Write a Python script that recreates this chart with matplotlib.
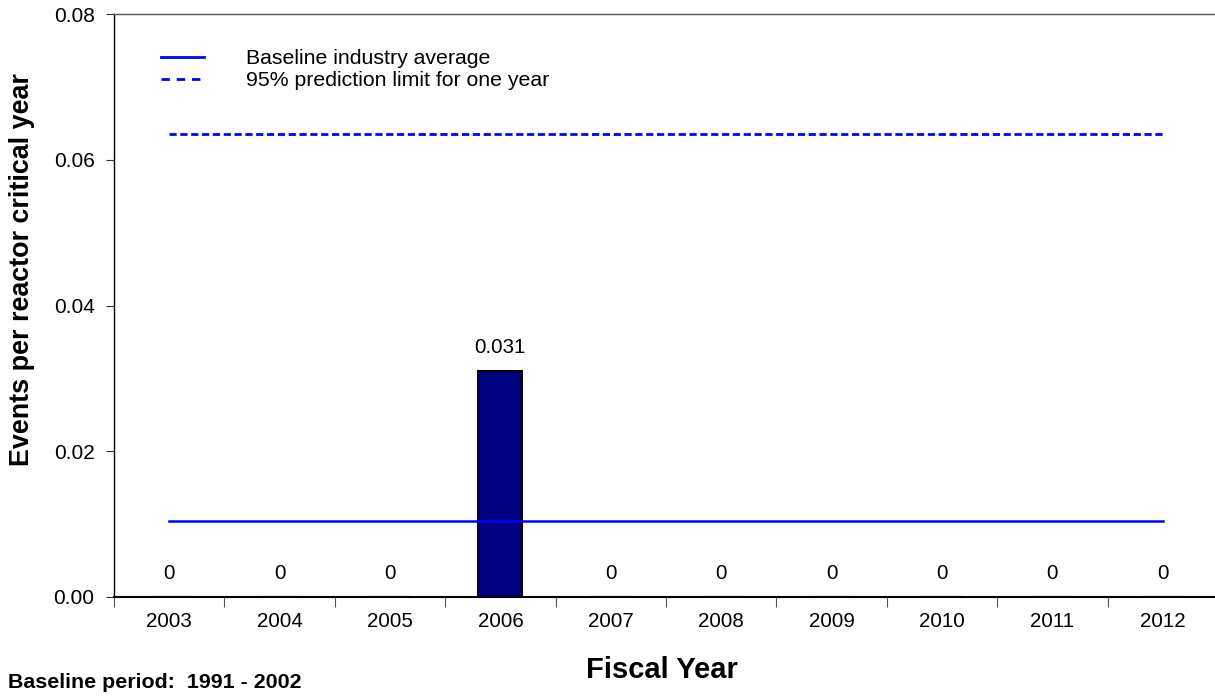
import matplotlib
matplotlib.use("Agg")
import matplotlib.pyplot as plt
from matplotlib.lines import Line2D
import numpy as np

plt.rcParams['font.family'] = ['Liberation Sans', 'DejaVu Sans']

# data
years = ['2003', '2004', '2005', '2006', '2007', '2008', '2009', '2010', '2011', '2012']
rates = [0, 0, 0, 0.031, 0, 0, 0, 0, 0, 0]
rate_labels = ['0', '0', '0', '0.031', '0', '0', '0', '0', '0', '0']
baseline_avg = 0.0104
pred_limit = 0.0635
y_ticks = [0.00, 0.02, 0.04, 0.06, 0.08]

W, H = 1215, 698
fig = plt.figure(figsize=(W / 100, H / 100), dpi=100)
ax = fig.add_axes([114 / W, (H - 597) / H, (1218 - 114) / W, (597 - 14) / H])

x = np.arange(len(years))

# bars
ax.bar(x, rates, width=0.4, color='#000080', edgecolor='black', linewidth=1.5, zorder=2)

# reference lines
ax.plot(x, [baseline_avg] * len(x), color='#0000ff', linewidth=1.8, zorder=3)
ax.plot(x, [pred_limit] * len(x), color='#0000ff', linewidth=2,
        linestyle=(0, (2.6, 1.3)), zorder=3)

# value labels
for xi, v, lab in zip(x, rates, rate_labels):
    ax.annotate(lab, (xi, v), xytext=(0, 17), textcoords='offset points',
                ha='center', va='center', fontsize=14.8, color='black')

ax.set_xlim(-0.5, len(years) - 0.5)
ax.set_ylim(0, 0.08)
ax.set_yticks(y_ticks)
ax.set_yticklabels([f'{t:.2f}' for t in y_ticks])

# boundary ticks, labels centred under each year
ax.set_xticks(np.arange(-0.5, len(years), 1.0))
ax.set_xticklabels([])
ax.set_xticks(x, minor=True)
ax.set_xticklabels(years, minor=True)
ax.tick_params(axis='x', which='major', direction='out', length=7, width=0.8, color='#555555')
ax.tick_params(axis='x', which='minor', length=0, pad=11, labelsize=14.8)
ax.tick_params(axis='y', direction='out', length=6, width=0.8, color='#333333',
               pad=8, labelsize=15)

for s in ['left', 'bottom']:
    ax.spines[s].set_color('black')
ax.spines['left'].set_linewidth(1.0)
ax.spines['bottom'].set_linewidth(1.5)
ax.spines['top'].set_color('#555555')
ax.spines['top'].set_linewidth(1.0)
ax.spines['right'].set_visible(False)

ax.set_ylabel('Events per reactor critical year', fontsize=19.4, fontweight='bold')
ax.yaxis.set_label_coords(-(114 - 22) / 1104, (597 - 270) / 583)
ax.set_xlabel('Fiscal Year', fontsize=21, fontweight='bold')
ax.xaxis.set_label_coords((662 - 114) / 1104, -(670 - 597) / 583)
ax.xaxis.label.set_va('center')
ax.yaxis.label.set_va('center')

# legend
handles = [
    Line2D([], [], color='#0000ff', linewidth=2),
    Line2D([], [], color='#0000ff', linewidth=2, linestyle=(0, (3, 2.5))),
]
ax.legend(handles, ['Baseline industry average', '95% prediction limit for one year'],
          loc='upper left', bbox_to_anchor=((161 - 114) / 1104, (597 - 49) / 583),
          frameon=False, fontsize=15.3, handlelength=2.0, handletextpad=2.0,
          labelspacing=0.15, borderpad=0, borderaxespad=0)

fig.text(8 / W, 1 - 683 / H, 'Baseline period:  1991 - 2002', fontsize=15.4,
         fontweight='bold', ha='left', va='center')

fig.savefig('out.png', dpi=100)
